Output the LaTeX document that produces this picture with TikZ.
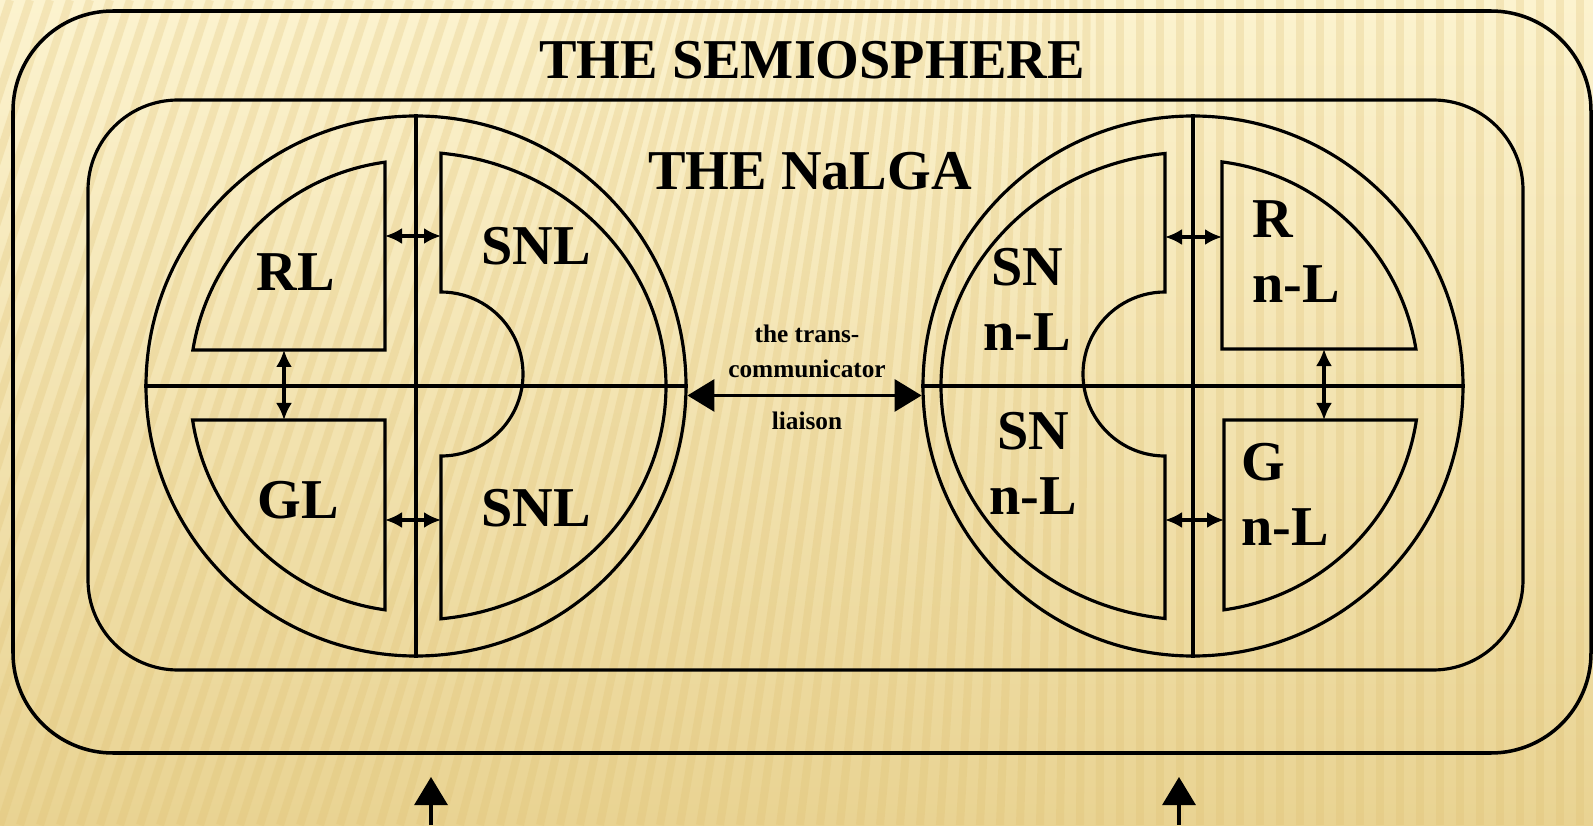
\documentclass[tikz,border=0pt]{standalone}
\usepackage{fontspec}
\setmainfont{Liberation Serif}
\usepackage{tikz}
\usetikzlibrary{positioning}
\usetikzlibrary{arrows.meta}
\definecolor{bgtop}{RGB}{252,243,207}
\definecolor{bgbot}{RGB}{233,211,146}
\definecolor{stripecol}{RGB}{222,190,110}
\tikzset{>=latex}
\tikzstyle{piece}=[line width=0.9pt]
\tikzstyle{link}=[{Latex[length=1.7mm,width=1.6mm]}-{Latex[length=1.7mm,width=1.6mm]},line width=0.9pt]
\tikzstyle{liaison}=[{Triangle[length=2.7mm,width=3.2mm]}-{Triangle[length=2.7mm,width=3.2mm]},line width=0.9pt]
\tikzstyle{feed}=[-{Triangle[length=2.8mm,width=3.3mm]},line width=0.9pt]
\tikzstyle{lab}=[font=\fontsize{16}{18.5}\selectfont\bfseries,inner sep=0pt]
\tikzstyle{tinylab}=[font=\fontsize{7.2}{10}\selectfont\bfseries,inner sep=0pt,align=center]
\tikzstyle{sphere}=[circle,draw,line width=0.9pt,minimum size=5.4cm,inner sep=0pt]

\begin{document}
\begin{tikzpicture}
\useasboundingbox (0,0) rectangle (15.93,8.25);

% Background
\shade[top color=bgtop,bottom color=bgbot] (0,0) rectangle (15.93,8.25);
\begin{scope}
\clip (0,0) rectangle (15.93,8.25);
\foreach \x in {-3.0,-2.8,...,16.0}
  \draw[stripecol,opacity=0.25,line width=0.08cm] (\x,0) -- ({\x+2.7*min(1,max(0,(11-\x)/8))},8.25);
\end{scope}

% Frames
\draw[line width=1pt,rounded corners=1cm] (0.13,0.72) rectangle (15.91,8.14);
\node[lab] (semio) at (8.12,7.65) {THE SEMIOSPHERE};
\draw[piece,rounded corners=0.9cm] (0.88,1.55) rectangle (15.23,7.25);
\node[lab] (nalga) at (8.10,6.54) {THE NaLGA};

% Left sphere
\node[sphere] (lcirc) at (4.16,4.39) {};
\draw[piece] (lcirc.north) -- (lcirc.south);
\draw[piece] (lcirc.west) -- (lcirc.east);
\begin{scope}[shift={(lcirc.center)}]
\draw[piece] (-0.31,0.36) -- ({90+asin(0.31/2.26)}:2.26)
  arc[start angle={90+asin(0.31/2.26)},end angle={180-asin(0.36/2.26)},radius=2.26] -- cycle;
\draw[piece] (-0.31,-0.34) -- ({270-asin(0.31/2.26)}:2.26)
  arc[start angle={270-asin(0.31/2.26)},end angle={180+asin(0.34/2.26)},radius=2.26] -- cycle;
\draw[piece] (0.25,0.94) arc[start angle=90,end angle={-asin(0.12/0.82)},radius=0.82] -- (2.50,0)
  arc[start angle=0,end angle={acos(0.25/2.5)},x radius=2.50,y radius=2.34] -- cycle;
\draw[piece] (0.25,-0.70) arc[start angle=-90,end angle={-asin(0.12/0.82)},radius=0.82] -- (2.50,0)
  arc[start angle=0,end angle={-acos(0.25/2.5)},x radius=2.50,y radius=2.34] -- cycle;
\coordinate (rl-r) at (-0.31,1.50);
\coordinate (snl1-l) at (0.25,1.50);
\coordinate (gl-r) at (-0.31,-1.34);
\coordinate (snl2-l) at (0.25,-1.34);
\coordinate (rl-b) at (-1.32,0.36);
\coordinate (gl-t) at (-1.32,-0.34);
\end{scope}
\draw[link] (rl-r) -- (snl1-l);
\draw[link] (gl-r) -- (snl2-l);
\draw[link] (rl-b) -- (gl-t);

\node[lab] (rl) at (2.96,5.53) {RL};
\node[lab] (snl1) at (5.36,5.79) {SNL};
\node[lab] (gl) at (2.98,3.25) {GL};
\node[lab] (snl2) at (5.36,3.17) {SNL};

% Right sphere
\node[sphere] (rcirc) at (11.93,4.39) {};
\draw[piece] (rcirc.north) -- (rcirc.south);
\draw[piece] (rcirc.west) -- (rcirc.east);
\begin{scope}[shift={(rcirc.center)}]
\draw[piece] (-0.28,0.94) arc[start angle=90,end angle={180+asin(0.12/0.82)},radius=0.82] -- (-2.52,0)
  arc[start angle=180,end angle={180-acos(0.28/2.52)},x radius=2.52,y radius=2.34] -- cycle;
\draw[piece] (-0.28,-0.70) arc[start angle=270,end angle={180+asin(0.12/0.82)},radius=0.82] -- (-2.52,0)
  arc[start angle=180,end angle={180+acos(0.28/2.52)},x radius=2.52,y radius=2.34] -- cycle;
\draw[piece] (0.29,0.37) -- ({90-asin(0.29/2.26)}:2.26)
  arc[start angle={90-asin(0.29/2.26)},end angle={asin(0.37/2.26)},radius=2.26] -- cycle;
\draw[piece] (0.31,-0.34) -- ({-90+asin(0.31/2.26)}:2.26)
  arc[start angle={-90+asin(0.31/2.26)},end angle={-asin(0.34/2.26)},radius=2.26] -- cycle;
\coordinate (sn1-r) at (-0.28,1.49);
\coordinate (rn-l) at (0.29,1.49);
\coordinate (sn2-r) at (-0.28,-1.34);
\coordinate (gn-l) at (0.31,-1.34);
\coordinate (rn-b) at (1.31,0.37);
\coordinate (gn-t) at (1.31,-0.34);
\end{scope}
\draw[link] (sn1-r) -- (rn-l);
\draw[link] (sn2-r) -- (gn-l);
\draw[link] (rn-b) -- (gn-t);

\node[lab,align=center] (sn1) at (10.27,5.26) {SN\\n-L};
\node[lab,align=center] (sn2) at (10.33,3.62) {SN\\n-L};
\node[lab,align=left,anchor=west] (rn) at (12.52,5.73) {R\\n-L};
\node[lab,align=left,anchor=west] (gn) at (12.41,3.31) {G\\n-L};

% Trans-communicator liaison
\draw[liaison] (lcirc.-2) -- (rcirc.182);
\node[tinylab] (trans) at (8.07,4.74) {the trans-\\communicator};
\node[tinylab] (liais) at (8.07,4.04) {liaison};

% Inputs from below
\coordinate (src1) at (4.31,0);
\coordinate (dst1) at (4.31,0.48);
\coordinate (src2) at (11.79,0);
\coordinate (dst2) at (11.79,0.48);
\draw[feed] (src1) -- (dst1);
\draw[feed] (src2) -- (dst2);

\end{tikzpicture}
\end{document}
